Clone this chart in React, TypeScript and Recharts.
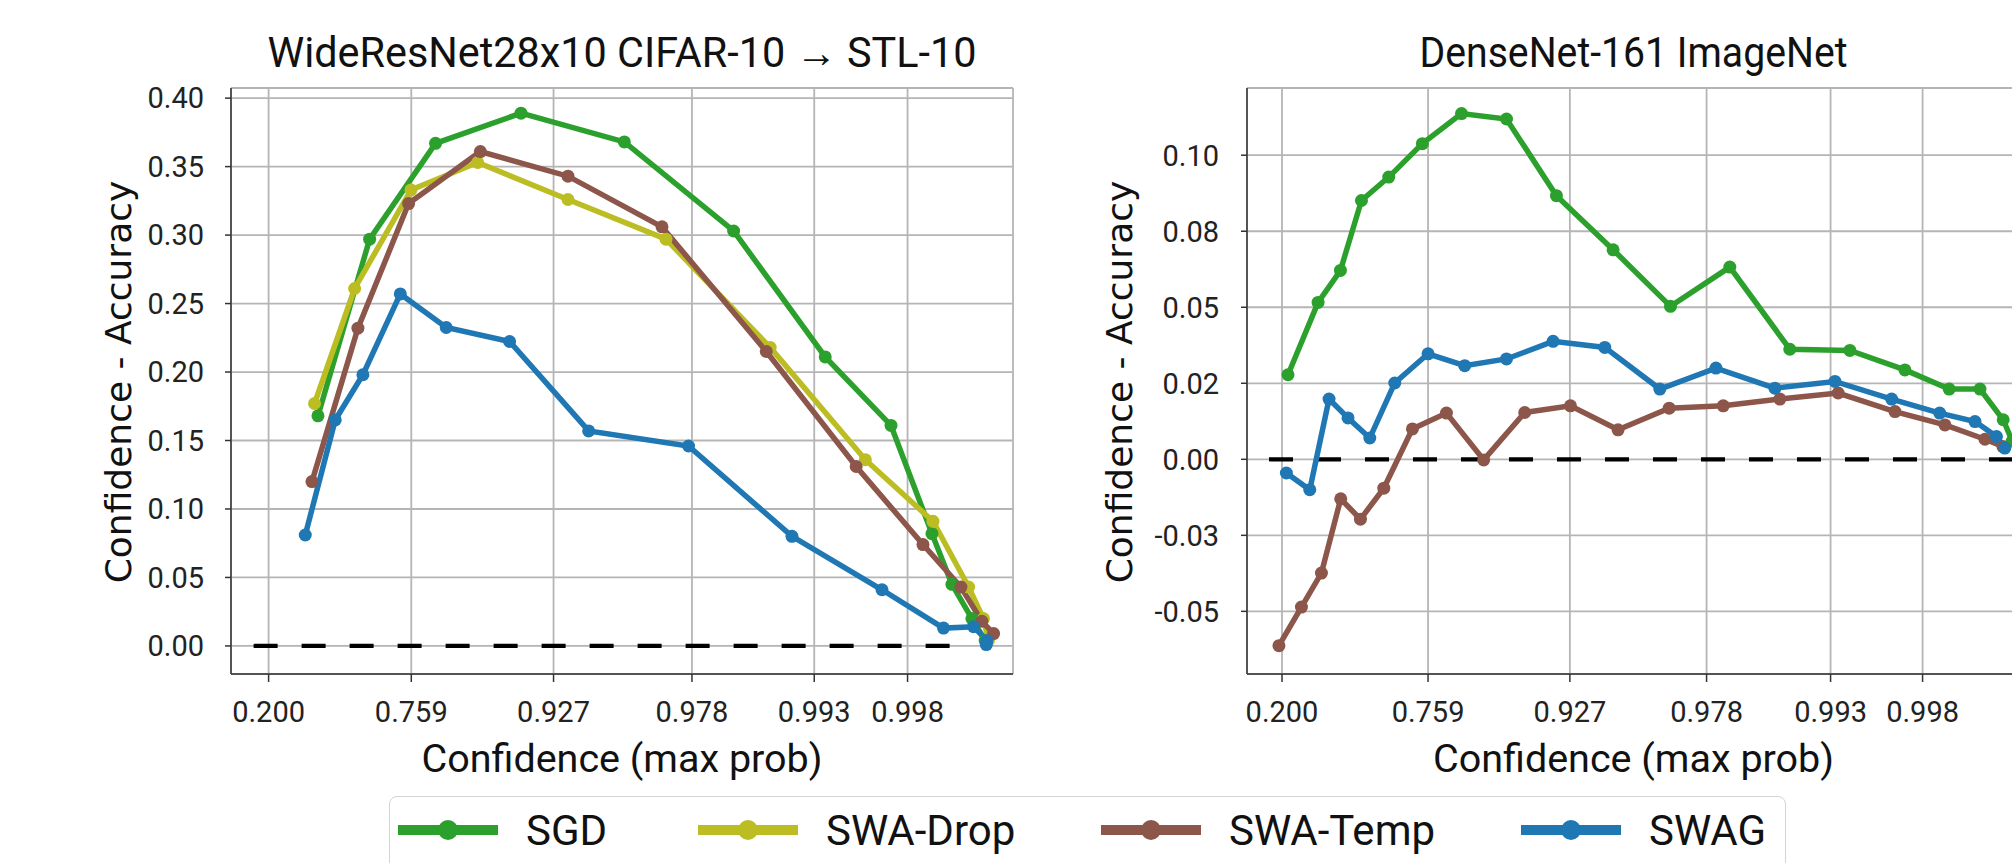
import React from 'react';
import {
  LineChart, Line, XAxis, YAxis, CartesianGrid, ReferenceLine, Legend,
} from 'recharts';

type Pt = [number, number];

// x values are positions on the (non-linear) confidence axis, in tick units
const xTickLabels = ['0.200', '0.759', '0.927', '0.978', '0.993', '0.998'];
const wrnXTicks = [0, 1, 1.997, 2.967, 3.824, 4.478];
const dnXTicks = [0, 1, 1.971, 2.907, 3.756, 4.386];

const wrnYTicks = [0, 0.05, 0.1, 0.15, 0.2, 0.25, 0.3, 0.35, 0.4];
const wrnYTickLabels = ['0.00', '0.05', '0.10', '0.15', '0.20', '0.25', '0.30', '0.35', '0.40'];
const dnYTicks = [-0.05, -0.025, 0, 0.025, 0.05, 0.075, 0.1];
const dnYTickLabels = ['-0.05', '-0.03', '0.00', '0.02', '0.05', '0.08', '0.10'];

// WideResNet28x10 CIFAR-10 -> STL-10
const wrnSGD: Pt[] = [
  [0.346, 0.168], [0.708, 0.297], [1.17, 0.367], [1.769, 0.389], [2.493, 0.368],
  [3.259, 0.303], [3.901, 0.211], [4.362, 0.161], [4.649, 0.082], [4.789, 0.045],
  [4.929, 0.02], [5.022, 0.004],
];
const wrnDrop: Pt[] = [
  [0.322, 0.177], [0.603, 0.261], [0.998, 0.333], [1.465, 0.353], [2.098, 0.326],
  [2.785, 0.297], [3.515, 0.218], [4.182, 0.136], [4.656, 0.091], [4.906, 0.043],
  [5.01, 0.02], [5.045, 0.004],
];
const wrnTemp: Pt[] = [
  [0.304, 0.12], [0.626, 0.232], [0.981, 0.323], [1.484, 0.361], [2.098, 0.343],
  [2.757, 0.306], [3.488, 0.215], [4.118, 0.131], [4.586, 0.074], [4.852, 0.043],
  [4.999, 0.018], [5.081, 0.009],
];
const wrnSWAG: Pt[] = [
  [0.257, 0.081], [0.467, 0.165], [0.661, 0.198], [0.923, 0.257], [1.245, 0.2325],
  [1.689, 0.2223], [2.243, 0.157], [2.943, 0.146], [3.668, 0.08], [4.299, 0.041],
  [4.73, 0.013], [4.941, 0.014], [5.034, 0.004], [5.03, 0.001],
];

// DenseNet-161 ImageNet
const dnSGD: Pt[] = [
  [0.041, 0.0278], [0.247, 0.0516], [0.4, 0.0621], [0.544, 0.0851], [0.731, 0.0928],
  [0.961, 0.1038], [1.229, 0.1137], [1.537, 0.1119], [1.879, 0.0867], [2.267, 0.0689],
  [2.66, 0.0503], [3.066, 0.0632], [3.477, 0.0362], [3.888, 0.0358], [4.265, 0.0294],
  [4.568, 0.0231], [4.779, 0.0231], [4.938, 0.013], [5.0, 0.006],
];
const dnTemp: Pt[] = [
  [-0.021, -0.0613], [0.133, -0.0486], [0.27, -0.0374], [0.402, -0.013], [0.537, -0.0197],
  [0.697, -0.0095], [0.893, 0.01], [1.126, 0.0152], [1.381, -0.0002], [1.662, 0.0154],
  [1.975, 0.0176], [2.301, 0.0097], [2.651, 0.0168], [3.021, 0.0176], [3.409, 0.0198],
  [3.808, 0.0218], [4.197, 0.0157], [4.539, 0.0113], [4.813, 0.0066], [4.936, 0.0042],
];
const dnSWAG: Pt[] = [
  [0.03, -0.0045], [0.19, -0.01], [0.322, 0.0198], [0.452, 0.0136], [0.601, 0.007],
  [0.772, 0.0251], [1.0, 0.0347], [1.251, 0.0308], [1.537, 0.033], [1.856, 0.0388],
  [2.21, 0.0368], [2.587, 0.0231], [2.971, 0.03], [3.375, 0.0234], [3.786, 0.0256],
  [4.174, 0.0198], [4.503, 0.0152], [4.745, 0.0124], [4.892, 0.0075], [4.949, 0.0037],
];

const wrnZeroLine: Pt = [-0.105, 4.805];
const dnZeroLine: Pt = [-0.089, 5.0];

const COLORS: Record<string, string> = {
  SGD: '#2ca02c',
  'SWA-Drop': '#bcbd22',
  'SWA-Temp': '#8c564b',
  SWAG: '#1f77b4',
};
const legendNames = ['SGD', 'SWA-Drop', 'SWA-Temp', 'SWAG'];
const legendOffsets = [8, 308, 711, 1131];

const toRows = (pts: Pt[]) => pts.map(([u, v]) => ({ u, v }));

const AXIS = '#333333';
const GRID = '#b5b5b5';
const TICK_FONT = { fontFamily: 'Roboto', fontSize: 29, fill: '#222' };
const CHART_H = 863;
const PLOT_TOP = 88;
const PLOT_BOTTOM = 674;

interface PanelProps {
  left: number;
  width: number;
  plotLeft: number;
  plotRight: number;
  xDomain: [number, number];
  yDomain: [number, number];
  xTicks: number[];
  yTicks: number[];
  yTickLabels: string[];
  yTickMargin: number;
  series: { name: string; points: Pt[] }[];
  zeroLine: Pt;
  title: string;
  titleWidth: number;
  yLabelX: number;
  withLegend?: boolean;
}

const renderLegend = () => (
  <div
    style={{
      position: 'relative', width: 1397, height: 110, boxSizing: 'border-box',
      border: '1.5px solid #d4d4d4', borderRadius: 8, background: '#fff',
    }}
  >
    {legendNames.map((name, i) => (
      <div
        key={name}
        style={{
          position: 'absolute', left: legendOffsets[i], top: 0, height: 66,
          display: 'flex', alignItems: 'center', whiteSpace: 'nowrap',
        }}
      >
        <svg width={100} height={24}>
          <line x1={0} y1={12} x2={100} y2={12} stroke={COLORS[name]} strokeWidth={10} />
          <circle cx={50} cy={12} r={10} fill={COLORS[name]} />
        </svg>
        <span style={{ marginLeft: 28, fontFamily: 'Roboto', fontSize: 42, color: '#111' }}>
          {name}
        </span>
      </div>
    ))}
  </div>
);

function Panel(p: PanelProps) {
  const yAxisWidth = p.plotLeft - p.left;
  const rightMargin = p.left + p.width - p.plotRight;
  const cx = (p.plotLeft + p.plotRight) / 2 - p.left;
  const fmtY = (v: number) => {
    const i = p.yTicks.findIndex((t) => Math.abs(t - v) < 1e-9);
    return i >= 0 ? p.yTickLabels[i] : '';
  };
  const fmtX = (v: number) => {
    const i = p.xTicks.findIndex((t) => Math.abs(t - v) < 1e-9);
    return i >= 0 ? xTickLabels[i] : '';
  };
  return (
    <div style={{ position: 'absolute', left: p.left, top: 0, width: p.width, height: CHART_H }}>
      <svg
        width={p.width}
        height={90}
        style={{ position: 'absolute', left: 0, top: 0, pointerEvents: 'none' }}
      >
        <text x={cx} y={67} textAnchor="middle" textLength={p.titleWidth}
          lengthAdjust="spacingAndGlyphs"
          style={{ fontFamily: 'Roboto', fontSize: 42, fill: '#111' }}>
          {p.title}
        </text>
      </svg>
      <LineChart
        width={p.width}
        height={CHART_H}
        margin={{ top: PLOT_TOP, right: rightMargin, left: 0, bottom: 0 }}
      >
        <CartesianGrid xAxisId="b" yAxisId="l" stroke={GRID} strokeWidth={1.8} />
        <XAxis
          xAxisId="b"
          type="number"
          dataKey="u"
          domain={p.xDomain}
          ticks={p.xTicks}
          interval={0}
          allowDataOverflow
          tickFormatter={fmtX}
          tick={TICK_FONT}
          tickSize={8}
          tickMargin={19}
          tickLine={{ stroke: AXIS, strokeWidth: 1.5 }}
          axisLine={{ stroke: AXIS, strokeWidth: 1.5 }}
          height={CHART_H - PLOT_BOTTOM}
          label={() => (
            <text x={cx} y={772} textAnchor="middle"
              style={{ fontFamily: 'Roboto', fontSize: 39.5, fill: '#111' }}>
              Confidence (max prob)
            </text>
          )}
        />
        <XAxis
          xAxisId="t"
          orientation="top"
          type="number"
          domain={[0, 1]}
          height={0}
          tick={false}
          tickLine={false}
          axisLine={{ stroke: AXIS, strokeWidth: 1.5 }}
        />
        <YAxis
          yAxisId="l"
          type="number"
          domain={p.yDomain}
          ticks={p.yTicks}
          interval={0}
          allowDataOverflow
          tickFormatter={fmtY}
          tick={TICK_FONT}
          tickSize={6}
          tickMargin={p.yTickMargin}
          tickLine={{ stroke: AXIS, strokeWidth: 1.5 }}
          axisLine={{ stroke: AXIS, strokeWidth: 1.5 }}
          width={yAxisWidth}
          label={() => (
            <text x={p.yLabelX - p.left} y={382} textAnchor="middle"
              transform={`rotate(-90 ${p.yLabelX - p.left} 382)`}
              style={{ fontFamily: 'DejaVu Sans', fontSize: 36, fill: '#111' }}>
              Confidence - Accuracy
            </text>
          )}
        />
        <YAxis
          yAxisId="r"
          orientation="right"
          type="number"
          domain={[0, 1]}
          width={0}
          tick={false}
          tickLine={false}
          axisLine={{ stroke: AXIS, strokeWidth: 1.5 }}
        />
        <ReferenceLine
          xAxisId="b"
          yAxisId="l"
          segment={[{ x: p.zeroLine[0], y: 0 }, { x: p.zeroLine[1], y: 0 }]}
          stroke="#000"
          strokeWidth={4.2}
          strokeDasharray="24 24"
        />
        {p.series.map((s) => (
          <Line
            key={s.name}
            xAxisId="b"
            yAxisId="l"
            data={toRows(s.points)}
            dataKey="v"
            name={s.name}
            type="linear"
            stroke={COLORS[s.name]}
            strokeWidth={5.5}
            dot={{ r: 6.5, fill: COLORS[s.name], stroke: COLORS[s.name], strokeWidth: 0 }}
            activeDot={false}
            isAnimationActive={false}
          />
        ))}
        {p.withLegend && (
          <Legend
            layout="horizontal"
            verticalAlign="middle"
            align="center"
            content={renderLegend}
            wrapperStyle={{ left: 389 - p.left, top: 796, width: 1397, height: 110 }}
          />
        )}
      </LineChart>
    </div>
  );
}

export default function App() {
  return (
    <div
      style={{
        position: 'absolute', left: 0, top: 0, width: 2012, height: 863,
        overflow: 'hidden', background: '#fff',
      }}
    >
      <Panel
        left={0}
        width={1030}
        plotLeft={231}
        plotRight={1013}
        xDomain={[-0.2635, 5.217]}
        yDomain={[-0.0205, 0.4074]}
        xTicks={wrnXTicks}
        yTicks={wrnYTicks}
        yTickLabels={wrnYTickLabels}
        yTickMargin={21}
        series={[
          { name: 'SGD', points: wrnSGD },
          { name: 'SWA-Drop', points: wrnDrop },
          { name: 'SWA-Temp', points: wrnTemp },
          { name: 'SWAG', points: wrnSWAG },
        ]}
        zeroLine={wrnZeroLine}
        title="WideResNet28x10 CIFAR-10 → STL-10"
        titleWidth={709}
        yLabelX={130.5}
        withLegend
      />
      <Panel
        left={1040}
        width={1000}
        plotLeft={1247}
        plotRight={2020}
        xDomain={[-0.2397, 5.053]}
        yDomain={[-0.0706, 0.1221]}
        xTicks={dnXTicks}
        yTicks={dnYTicks}
        yTickLabels={dnYTickLabels}
        yTickMargin={22}
        series={[
          { name: 'SGD', points: dnSGD },
          { name: 'SWA-Temp', points: dnTemp },
          { name: 'SWAG', points: dnSWAG },
        ]}
        zeroLine={dnZeroLine}
        title="DenseNet-161 ImageNet"
        titleWidth={428}
        yLabelX={1132}
      />
    </div>
  );
}
